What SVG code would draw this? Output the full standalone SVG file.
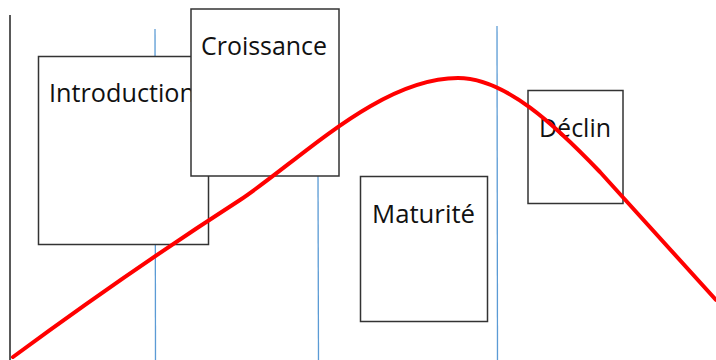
<svg xmlns="http://www.w3.org/2000/svg" width="716" height="360" viewBox="0 0 716 360">
  <style>
    .box { fill: #ffffff; stroke: #333333; stroke-width: 1.5; }
    .lbl { font-family: "Open Sans", "Liberation Sans", sans-serif; font-size: 25px; fill: #111111; }
    .sep { stroke: #5b9bd5; stroke-width: 1.3; }
    .axis { stroke: #222222; stroke-width: 1.5; }
    .curve { fill: none; stroke: #ff0000; stroke-width: 4; stroke-linecap: round; }
  </style>
  <rect width="716" height="360" fill="#ffffff"/>
  <g id="guides">
    <line class="axis" x1="10" y1="15" x2="10" y2="360"/>
    <line class="sep" x1="155" y1="29" x2="155.5" y2="360"/>
    <line class="sep" x1="318" y1="176" x2="318.5" y2="360"/>
    <line class="sep" x1="497" y1="26" x2="497.5" y2="360"/>
  </g>
  <g id="introduction">
    <rect class="box" x="38.5" y="56.5" width="170" height="188"/>
    <text class="lbl" x="49" y="102" textLength="146" lengthAdjust="spacingAndGlyphs">Introduction</text>
  </g>
  <g id="croissance">
    <rect class="box" x="191" y="9" width="148" height="167"/>
    <text class="lbl" x="201" y="55" textLength="126" lengthAdjust="spacingAndGlyphs">Croissance</text>
  </g>
  <g id="maturite">
    <rect class="box" x="360.5" y="176.5" width="127" height="145"/>
    <text class="lbl" x="372" y="223" textLength="103" lengthAdjust="spacingAndGlyphs">Maturité</text>
  </g>
  <g id="declin">
    <rect class="box" x="528" y="90.5" width="95" height="113"/>
    <text class="lbl" x="539" y="137" textLength="72" lengthAdjust="spacingAndGlyphs">Déclin</text>
  </g>
  <g id="connectors">
    <path class="curve" d="M 13 357 C 70 315, 150 258, 240 200 C 300 160, 380 78, 458 78 C 505 78, 555 125, 600 172 L 716 300"/>
  </g>
</svg>
